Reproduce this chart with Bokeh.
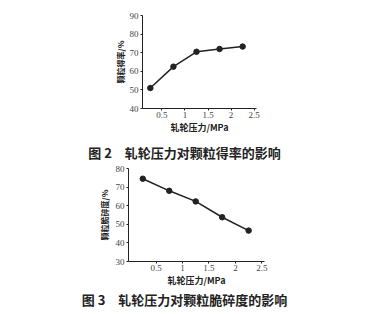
from bokeh.plotting import figure
from bokeh.layouts import column, row
from bokeh.models import FixedTicker
from bokeh.core.properties import value
from bokeh.embed import file_html
from bokeh.resources import INLINE

# roller pressure (MPa)
pressure = [0.25, 0.75, 1.25, 1.75, 2.25]
# granule yield (%)
yield_pct = [51, 62.5, 70.5, 72, 73.3]
# granule friability (%)
friability = [74.5, 68, 62.3, 53.8, 46.6]

x_ticks = [0.5, 1, 1.5, 2, 2.5]
yield_ticks = [40, 50, 60, 70, 80, 90]
friab_ticks = [30, 40, 50, 60, 70, 80]

caption_top = "图 2\u3000轧轮压力对颗粒得率的影响"
caption_bottom = "图 3\u3000轧轮压力对颗粒脆碎度的影响"
xlabel = "轧轮压力/MPa"
ylabel_top = "颗粒得率/%"
ylabel_bottom = "颗粒脆碎度/%"

TICK_FONT = "Liberation Serif"
CJK_FONT = "Noto Sans CJK SC"
INK = "#222222"
W = 368


def style(p, yticks, standoff):
    p.xaxis.ticker = FixedTicker(ticks=x_ticks)
    p.yaxis.ticker = FixedTicker(ticks=yticks)
    p.xgrid.visible = False
    p.ygrid.visible = False
    p.outline_line_color = None
    for ax in (p.xaxis[0], p.yaxis[0]):
        ax.axis_line_color = INK
        ax.axis_line_width = 1
        ax.major_tick_line_color = INK
        ax.major_tick_in = 0
        ax.major_tick_out = 2
        ax.minor_tick_line_color = None
        ax.major_label_text_font = TICK_FONT
        ax.major_label_text_font_size = "9px"
        ax.major_label_text_color = "#444444"
        ax.axis_label_text_font = CJK_FONT
        ax.axis_label_text_font_style = "bold"
        ax.axis_label_text_color = INK
    p.xaxis.major_label_standoff = 1
    p.yaxis.major_label_standoff = 2
    p.xaxis.axis_label_text_font_size = "9px"
    p.xaxis.axis_label_standoff = 0
    p.yaxis.axis_label_text_font_size = "8px"
    p.yaxis.axis_label_standoff = standoff
    p.background_fill_color = "white"
    p.border_fill_color = "white"


def caption_strip(text, height, y):
    c = figure(width=W, height=height, x_range=(0, W), y_range=(0, height),
               output_backend="svg", toolbar_location=None,
               min_border=0, outline_line_color=None)
    c.axis.visible = False
    c.grid.visible = False
    c.text(x=[184], y=[y], text=[text], text_align="center",
           text_baseline="middle", text_font=value(CJK_FONT),
           text_font_style="bold", text_font_size="13px", text_color=INK)
    return c


# upper chart: yield vs pressure
p1 = figure(width=W, height=140, x_range=(0.08, 2.55), y_range=(40, 90),
            output_backend="svg", toolbar_location=None,
            min_border_left=142, min_border_right=112,
            min_border_top=15, min_border_bottom=32)
p1.line(pressure, yield_pct, line_color=INK, line_width=1.5)
p1.scatter(pressure, yield_pct, size=5.5, color=INK)
p1.xaxis.axis_label = xlabel
p1.yaxis.axis_label = ylabel_top
style(p1, yield_ticks, 1)

cap1 = caption_strip(caption_top, 25, 13)

# lower chart: friability vs pressure
p2 = figure(width=W, height=124, x_range=(-0.02, 2.55), y_range=(30, 80),
            output_backend="svg", toolbar_location=None,
            min_border_left=128, min_border_right=104,
            min_border_top=3, min_border_bottom=27)
p2.line(pressure, friability, line_color=INK, line_width=1.5)
p2.scatter(pressure, friability, size=5.5, color=INK)
p2.xaxis.axis_label = xlabel
p2.yaxis.axis_label = ylabel_bottom
style(p2, friab_ticks, 3)

cap2 = caption_strip(caption_bottom, 25, 15)

# each piece in its own row so the frames are laid out independently
layout = column(row(p1), row(cap1), row(p2), row(cap2), spacing=0)
open("out.html", "w").write(file_html(layout, INLINE))
